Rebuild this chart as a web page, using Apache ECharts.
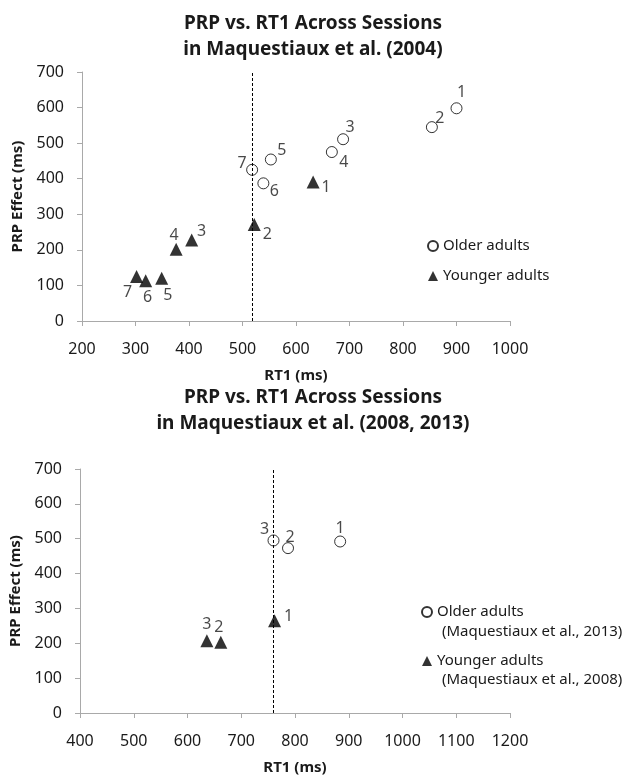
<!DOCTYPE html>
<html><head><meta charset="utf-8">
<script src="https://cdn.jsdelivr.net/npm/echarts@6/dist/echarts.min.js"></script>
<style>html,body{margin:0;padding:0;background:#fff}#c{width:644px;height:781px}</style>
</head><body><div id="c"></div>
<script>
// ---- data ----
const topTitle = 'PRP vs. RT1 Across Sessions\nin Maquestiaux et al. (2004)';
const bottomTitle = 'PRP vs. RT1 Across Sessions\nin Maquestiaux et al. (2008, 2013)';
const xAxisName = 'RT1 (ms)';
const yAxisName = 'PRP Effect (ms)';

const topOlderSessions = [1, 2, 3, 4, 5, 6, 7];
const topOlderRT1 = [900, 854, 688, 667, 553, 539, 518];
const topOlderPRP = [598, 545, 511, 475, 454, 387, 425];
const topYoungerSessions = [1, 2, 3, 4, 5, 6, 7];
const topYoungerRT1 = [632, 522, 405, 376, 349, 319, 302];
const topYoungerPRP = [391, 271, 228, 202, 120, 113, 125];
const topCutoff = 518;

const bottomOlderSessions = [1, 2, 3];
const bottomOlderRT1 = [884, 787, 760];
const bottomOlderPRP = [492, 473, 495];
const bottomYoungerSessions = [1, 2, 3];
const bottomYoungerRT1 = [762, 662, 636];
const bottomYoungerPRP = [265, 203, 207];
const bottomCutoff = 760;

const topLegend = ['Older adults', 'Younger adults'];
const bottomLegend = ['Older adults (Maquestiaux et al., 2013)', 'Younger adults (Maquestiaux et al., 2008)'];

// ---- layout (label offsets, px) ----
const offTopOlder = [[5,-16],[8,-9],[7,-12],[12,10],[11,-9],[11,8],[-10,-6]];
const offTopYounger = [[13,6],[13,10],[10,-8],[-2,-14],[6,17],[2,17],[-9,16]];
const offBotOlder = [[0,-13],[2,-11],[-9,-11]];
const offBotYounger = [[14,-4],[-2,-15],[0,-16]];

const FONT = '"Noto Sans", "DejaVu Sans", sans-serif';
const TXT = '#1a1a1a';
const AX = '#a9a9a9';

function pts(xs, ys, ss, offs) {
  return xs.map((x, i) => ({
    value: [x, ys[i], ss[i]],
    label: { offset: offs[i] }
  }));
}
function labelCfg() {
  return { show: true, position: 'inside', formatter: p => String(p.value[2]),
           color: TXT, fontSize: 16, fontFamily: FONT };
}
function xAx(idx, min, max) {
  return { gridIndex: idx, type: 'value', min: min, max: max, interval: 100,
    name: xAxisName, nameLocation: 'middle', nameGap: 47,
    nameTextStyle: { fontWeight: 'bold', fontSize: 15, color: TXT, fontFamily: FONT },
    axisLine: { show: true, lineStyle: { color: AX } },
    axisTick: { show: true, length: 5, lineStyle: { color: AX } },
    splitLine: { show: false },
    axisLabel: { margin: 20, fontSize: 16, color: TXT, fontFamily: FONT, formatter: v => String(v) } };
}
function yAx(idx, gap) {
  return { gridIndex: idx, type: 'value', min: 0, max: 700, interval: 100,
    name: yAxisName, nameLocation: 'middle', nameGap: gap, nameRotate: 90,
    nameTextStyle: { fontWeight: 'bold', fontSize: 15, color: TXT, fontFamily: FONT },
    axisLine: { show: true, lineStyle: { color: AX } },
    axisTick: { show: true, length: 5, lineStyle: { color: AX } },
    splitLine: { show: false },
    axisLabel: { margin: 18, fontSize: 16, color: TXT, fontFamily: FONT, formatter: v => String(v) } };
}
function cutLine(v) {
  return { silent: true, symbol: ['none', 'none'], label: { show: false },
    lineStyle: { color: '#000', type: [3, 2], width: 1 },
    data: [{ xAxis: v }] };
}
const olderStyle = { color: '#fff', borderColor: '#000', borderWidth: 1 };
const youngerStyle = { color: '#000' };

const option = {
  animation: false,
  textStyle: { fontFamily: FONT },
  graphic: [
    { type: 'text', x: 313, y: 11, style: { text: topTitle, font: 'bold 19px ' + FONT, fill: TXT, textAlign: 'center', lineHeight: 26 } },
    { type: 'text', x: 313, y: 385, style: { text: bottomTitle, font: 'bold 19px ' + FONT, fill: TXT, textAlign: 'center', lineHeight: 26 } },
    { type: 'text', x: 442, y: 624, style: { text: '(Maquestiaux et al., 2013)', font: '15px ' + FONT, fill: TXT } },
    { type: 'text', x: 442, y: 672, style: { text: '(Maquestiaux et al., 2008)', font: '15px ' + FONT, fill: TXT } }
  ],
  grid: [
    { left: 82, top: 72, width: 428, height: 249 },
    { left: 80, top: 469, width: 430, height: 244 }
  ],
  xAxis: [xAx(0, 200, 1000), xAx(1, 400, 1200)],
  yAxis: [yAx(0, 31), yAx(1, 29)],
  legend: [
    { orient: 'vertical', left: 427, top: 237, padding: 0, itemWidth: 10, itemHeight: 10, itemGap: 12,
      textStyle: { fontSize: 15, color: TXT, fontFamily: FONT, lineHeight: 18 },
      data: [{ name: topLegend[0], icon: 'circle' }, { name: topLegend[1], icon: 'triangle' }] },
    { orient: 'vertical', left: 421, top: 603, padding: 0, itemWidth: 10, itemHeight: 10, itemGap: 31,
      formatter: n => n.split(' (')[0],
      textStyle: { fontSize: 15, color: TXT, fontFamily: FONT, lineHeight: 18 },
      data: [{ name: bottomLegend[0], icon: 'circle' }, { name: bottomLegend[1], icon: 'triangle' }] }
  ],
  series: [
    { name: topLegend[0], type: 'scatter', xAxisIndex: 0, yAxisIndex: 0, symbol: 'circle', symbolSize: 11,
      itemStyle: olderStyle, label: labelCfg(), markLine: cutLine(topCutoff),
      data: pts(topOlderRT1, topOlderPRP, topOlderSessions, offTopOlder) },
    { name: topLegend[1], type: 'scatter', xAxisIndex: 0, yAxisIndex: 0, symbol: 'triangle', symbolSize: 13,
      itemStyle: youngerStyle, label: labelCfg(),
      data: pts(topYoungerRT1, topYoungerPRP, topYoungerSessions, offTopYounger) },
    { name: bottomLegend[0], type: 'scatter', xAxisIndex: 1, yAxisIndex: 1, symbol: 'circle', symbolSize: 11,
      itemStyle: olderStyle, label: labelCfg(), markLine: cutLine(bottomCutoff),
      data: pts(bottomOlderRT1, bottomOlderPRP, bottomOlderSessions, offBotOlder) },
    { name: bottomLegend[1], type: 'scatter', xAxisIndex: 1, yAxisIndex: 1, symbol: 'triangle', symbolSize: 13,
      itemStyle: youngerStyle, label: labelCfg(),
      data: pts(bottomYoungerRT1, bottomYoungerPRP, bottomYoungerSessions, offBotYounger) }
  ]
};
const chart = echarts.init(document.getElementById('c'), null, { renderer: 'canvas' });
chart.setOption(option);
</script></body></html>
